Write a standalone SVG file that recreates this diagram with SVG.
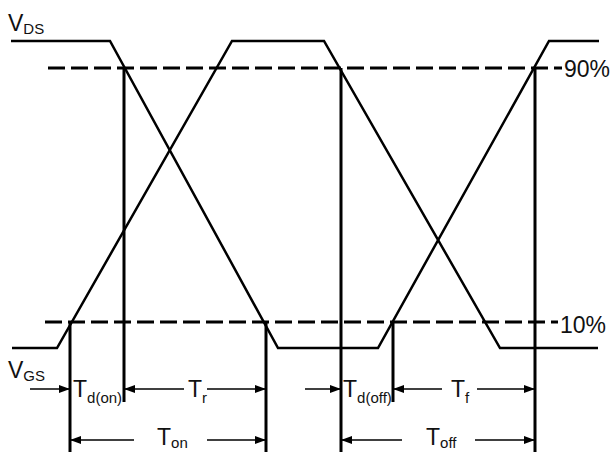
<svg xmlns="http://www.w3.org/2000/svg" width="613" height="452" viewBox="0 0 613 452">
  <style>
    .wave { fill: none; stroke: #000; stroke-width: 2.5; stroke-linejoin: miter; }
    .dash { stroke: #000; stroke-width: 3; stroke-dasharray: 17 6; }
    .vline { stroke: #000; stroke-width: 3; }
    .arr { stroke: #000; stroke-width: 1.5; marker-end: url(#ah); }
    text { font-family: "Liberation Sans", Arial, sans-serif; fill: #111; }
    .big { font-size: 23px; }
    .sub { font-size: 15px; }
  </style>
  <defs>
    <marker id="ah" markerUnits="userSpaceOnUse" markerWidth="11" markerHeight="8" refX="11" refY="4" orient="auto">
      <path d="M0,0 L11,4 L0,8 z" fill="#000"/>
    </marker>
  </defs>
  <rect width="613" height="452" fill="#fff"/>

  <g id="waveforms">
    <polyline id="vds" class="wave" points="11,41 110,41 278,348 378,348 549,41 599,41"/>
    <polyline id="vgs" class="wave" points="12,348 57,348 232,41 324,41 500,348 598,348"/>
  </g>

  <g id="levels">
    <line class="dash" x1="48" y1="68" x2="562" y2="68"/>
    <line class="dash" x1="45" y1="322" x2="558" y2="322"/>
    <text class="big" x="564" y="77">90%</text>
    <text class="big" x="560" y="333">10%</text>
  </g>

  <g id="connectors">
    <line class="vline" x1="70" y1="322" x2="70" y2="452"/>
    <line class="vline" x1="124" y1="68" x2="124" y2="402"/>
    <line class="vline" x1="266" y1="322" x2="266" y2="452"/>
    <line class="vline" x1="341" y1="68" x2="341" y2="452"/>
    <line class="vline" x1="393" y1="322" x2="393" y2="402"/>
    <line class="vline" x1="535" y1="68" x2="535" y2="452"/>

    <line class="arr" x1="30" y1="389" x2="70" y2="389"/>
    <line class="arr" x1="184" y1="389" x2="124" y2="389"/>
    <line class="arr" x1="207" y1="389" x2="266" y2="389"/>
    <line class="arr" x1="305" y1="389" x2="341" y2="389"/>
    <line class="arr" x1="442" y1="389" x2="393" y2="389"/>
    <line class="arr" x1="477" y1="389" x2="535" y2="389"/>

    <line class="arr" x1="134" y1="440" x2="70" y2="440"/>
    <line class="arr" x1="207" y1="440" x2="266" y2="440"/>
    <line class="arr" x1="402" y1="440" x2="341" y2="440"/>
    <line class="arr" x1="475" y1="440" x2="535" y2="440"/>
  </g>

  <g id="labels">
    <text class="big" x="8" y="31">V<tspan class="sub" dy="3">DS</tspan></text>
    <text class="big" x="8" y="378">V<tspan class="sub" dy="3">GS</tspan></text>
    <text class="big" x="73" y="397">T<tspan class="sub" dy="6">d(on)</tspan></text>
    <text class="big" x="188" y="397">T<tspan class="sub" dy="6">r</tspan></text>
    <text class="big" x="157" y="445">T<tspan class="sub" dy="3">on</tspan></text>
    <text class="big" x="343" y="397">T<tspan class="sub" dy="6">d(off)</tspan></text>
    <text class="big" x="451" y="397">T<tspan class="sub" dy="6">f</tspan></text>
    <text class="big" x="426" y="445">T<tspan class="sub" dy="3">off</tspan></text>
  </g>
</svg>
